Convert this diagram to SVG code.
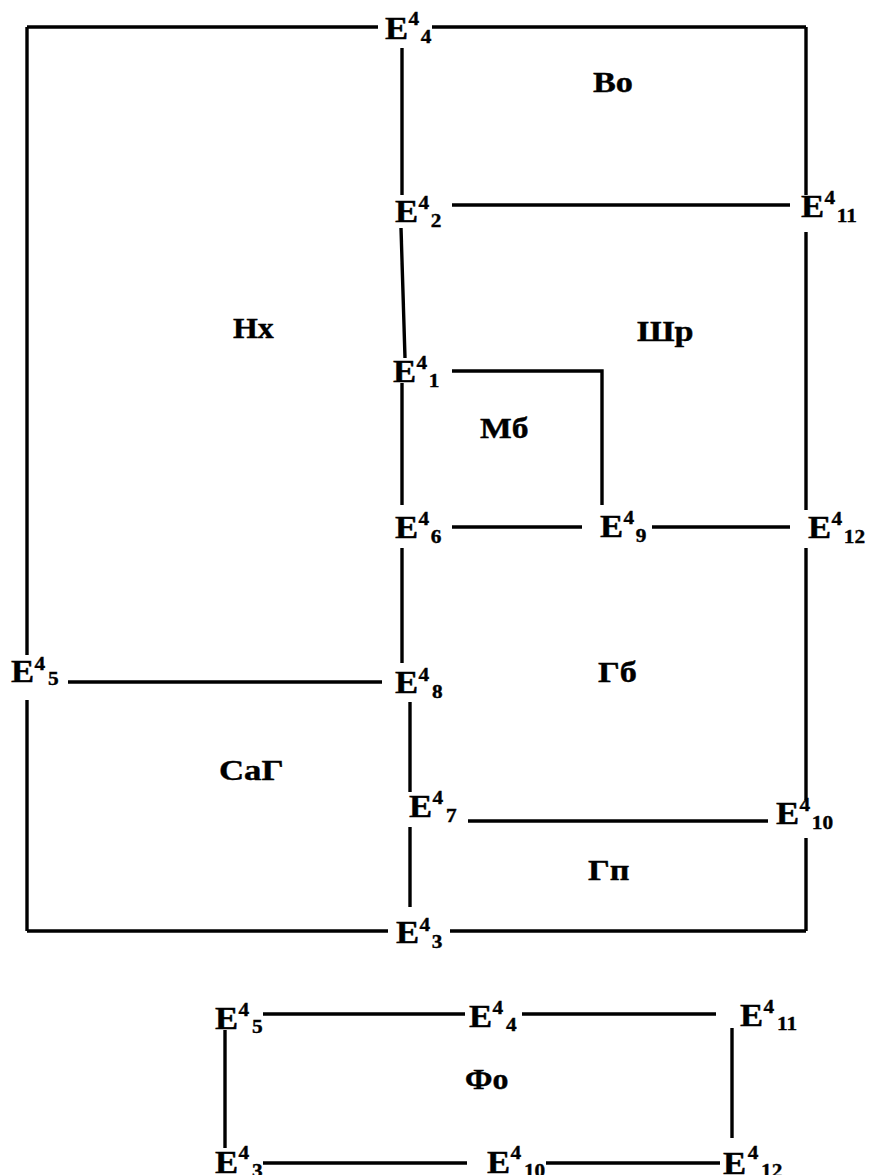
<svg xmlns="http://www.w3.org/2000/svg" width="870" height="1175" viewBox="0 0 870 1175">
  <style>
    .ln { stroke: #000; stroke-width: 3.4; fill: none; stroke-linecap: butt; }
    text { font-family: "Liberation Serif", "Times New Roman", serif; font-weight: bold; fill: #000; stroke: #000; stroke-width: 0.4; }
    .e { font-size: 31px; }
    .d { font-size: 19px; }
    .r { font-size: 29px; }
  </style>
  <rect width="870" height="1175" fill="#fff"/>

  <!-- connectors -->
  <g id="connectors" class="ln">
    <!-- outer frame -->
    <path d="M27,27 H378 M432,27 H806"/>
    <path d="M27,27 V655 M27,700 V931"/>
    <path d="M27,931 H388 M450,931 H806"/>
    <path d="M806,27 V195 M806,232 V510 M806,548 V800 M806,838 V931"/>
    <!-- inner verticals -->
    <path d="M402,48 V195"/>
    <path d="M401,228 L405,358"/>
    <path d="M402,383 V505"/>
    <path d="M402,548 V663"/>
    <path d="M410,702 V792"/>
    <path d="M410,827 V907"/>
    <!-- inner horizontals -->
    <path d="M452,205 H790"/>
    <path d="M452,371 H602 V505"/>
    <path d="M452,527 H582"/>
    <path d="M652,527 H790"/>
    <path d="M68,682 H382"/>
    <path d="M468,821 H768"/>
    <!-- lower frame -->
    <path d="M263,1014 H465 M522,1014 H716"/>
    <path d="M225,1030 V1148"/>
    <path d="M732,1028 V1138"/>
    <path d="M263,1163 H467 M546,1163 H720"/>
  </g>

  <!-- vertex nodes -->
  <g id="n-top-4" transform="translate(385,39) scale(1.12,1)"><text class="e">E</text><text class="d" x="21" y="-14">4</text><text class="d" x="32" y="4">4</text></g>
  <g id="n-top-2" transform="translate(395,222) scale(1.12,1)"><text class="e">E</text><text class="d" x="21" y="-13">4</text><text class="d" x="32" y="5">2</text></g>
  <g id="n-top-11" transform="translate(801,217) scale(1.12,1)"><text class="e">E</text><text class="d" x="21" y="-13">4</text><text class="d" x="32" y="5">11</text></g>
  <g id="n-top-1" transform="translate(393,382) scale(1.12,1)"><text class="e">E</text><text class="d" x="21" y="-13">4</text><text class="d" x="32" y="5">1</text></g>
  <g id="n-top-6" transform="translate(395,538) scale(1.12,1)"><text class="e">E</text><text class="d" x="21" y="-13">4</text><text class="d" x="32" y="5">6</text></g>
  <g id="n-top-9" transform="translate(600,537) scale(1.12,1)"><text class="e">E</text><text class="d" x="21" y="-13">4</text><text class="d" x="32" y="5">9</text></g>
  <g id="n-top-12" transform="translate(808,538) scale(1.12,1)"><text class="e">E</text><text class="d" x="21" y="-13">4</text><text class="d" x="32" y="5">12</text></g>
  <g id="n-top-5" transform="translate(11,682) scale(1.12,1)"><text class="e">E</text><text class="d" x="21" y="-12">4</text><text class="d" x="33" y="3">5</text></g>
  <g id="n-top-8" transform="translate(395,693) scale(1.12,1)"><text class="e">E</text><text class="d" x="21" y="-12">4</text><text class="d" x="33" y="5">8</text></g>
  <g id="n-top-7" transform="translate(409,817) scale(1.12,1)"><text class="e">E</text><text class="d" x="21" y="-13">4</text><text class="d" x="33" y="5">7</text></g>
  <g id="n-top-10" transform="translate(776,824) scale(1.12,1)"><text class="e">E</text><text class="d" x="21" y="-13">4</text><text class="d" x="32" y="5">10</text></g>
  <g id="n-top-3" transform="translate(396,943) scale(1.12,1)"><text class="e">E</text><text class="d" x="21" y="-12">4</text><text class="d" x="32" y="5">3</text></g>

  <g id="n-low-5" transform="translate(215,1029) scale(1.12,1)"><text class="e">E</text><text class="d" x="21" y="-13">4</text><text class="d" x="33" y="4">5</text></g>
  <g id="n-low-4" transform="translate(469,1027) scale(1.12,1)"><text class="e">E</text><text class="d" x="21" y="-13">4</text><text class="d" x="33" y="4">4</text></g>
  <g id="n-low-11" transform="translate(740,1026) scale(1.12,1)"><text class="e">E</text><text class="d" x="21" y="-13">4</text><text class="d" x="33" y="4">11</text></g>
  <g id="n-low-3" transform="translate(215,1173) scale(1.12,1)"><text class="e">E</text><text class="d" x="21" y="-14">4</text><text class="d" x="33" y="4">3</text></g>
  <g id="n-low-10" transform="translate(487,1173) scale(1.12,1)"><text class="e">E</text><text class="d" x="21" y="-14">4</text><text class="d" x="33" y="4">10</text></g>
  <g id="n-low-12" transform="translate(723,1174) scale(1.12,1)"><text class="e">E</text><text class="d" x="22" y="-15">4</text><text class="d" x="34" y="3">12</text></g>

  <!-- region labels -->
  <g id="r-vo"><text class="r" transform="translate(593,92) scale(1.18,1)">Во</text></g>
  <g id="r-nh"><text class="r" transform="translate(233,338) scale(1.1,1)">Нх</text></g>
  <g id="r-shr"><text class="r" transform="translate(637,341) scale(1.18,1)">Шр</text></g>
  <g id="r-mb"><text class="r" transform="translate(480,438) scale(1.16,1)">Мб</text></g>
  <g id="r-gb"><text class="r" transform="translate(598,682) scale(1.18,1)">Гб</text></g>
  <g id="r-sag"><text class="r" transform="translate(219,780) scale(1.2,1)">СаГ</text></g>
  <g id="r-gp"><text class="r" transform="translate(588,880) scale(1.18,1)">Гп</text></g>
  <g id="r-fo"><text class="r" transform="translate(465,1089) scale(1.1,1)">Фо</text></g>
</svg>
